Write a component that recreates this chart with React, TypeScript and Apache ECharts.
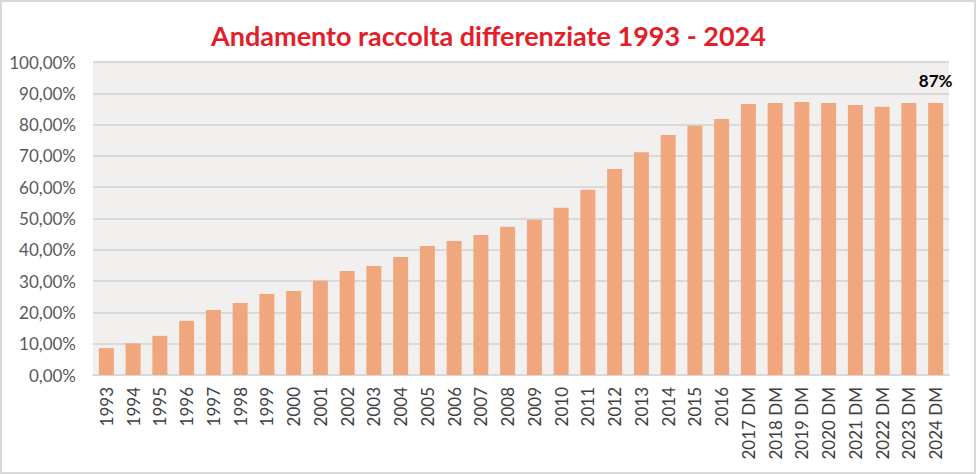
import React, { useEffect, useRef } from "react";
import * as echarts from "echarts";

const categories: string[] = [
  "1993", "1994", "1995", "1996", "1997", "1998", "1999", "2000",
  "2001", "2002", "2003", "2004", "2005", "2006", "2007", "2008",
  "2009", "2010", "2011", "2012", "2013", "2014", "2015", "2016",
  "2017 DM", "2018 DM", "2019 DM", "2020 DM", "2021 DM", "2022 DM", "2023 DM", "2024 DM",
];

const values: number[] = [
  8.6, 10.1, 12.5, 17.3, 20.8, 23.0, 25.9, 26.8,
  30.1, 33.2, 34.8, 37.7, 41.2, 42.8, 44.7, 47.4,
  49.6, 53.4, 59.2, 65.8, 71.2, 76.7, 79.6, 81.8,
  86.6, 86.9, 87.2, 86.9, 86.3, 85.7, 86.9, 86.9,
];

const titleText = "Andamento raccolta differenziate 1993 - 2024";

export default function App() {
  const ref = useRef<HTMLDivElement>(null);
  useEffect(() => {
    if (!ref.current) return;
    const chart = echarts.init(ref.current, null, { renderer: "svg" });
    const last = values.length - 1;
    chart.setOption({
      animation: false,
      backgroundColor: "#ffffff",
      textStyle: { fontFamily: "Lato" },
      title: {
        text: titleText,
        left: "center",
        top: 17,
        textStyle: { fontFamily: "Lato", fontWeight: "bold", fontSize: 27, color: "#E3202A" },
      },
      graphic: [
        {
          type: "rect",
          shape: { x: 1, y: 1, width: 974, height: 472 },
          style: { fill: "none", stroke: "#D9D9D9", lineWidth: 2 },
          silent: true,
        },
      ],
      grid: {
        left: 93, right: 28, top: 62, bottom: 100,
        show: true, backgroundColor: "#F2F0EF", borderWidth: 0,
      },
      xAxis: {
        type: "category",
        data: categories,
        axisTick: { show: false },
        axisLine: { lineStyle: { color: "#D9D9D9", width: 2 } },
        axisLabel: { rotate: 90, interval: 0, fontSize: 17, color: "#404040", margin: 12, fontFamily: "Lato" },
      },
      yAxis: {
        type: "value",
        min: 0, max: 100, interval: 10,
        axisLine: { show: false },
        axisTick: { show: false },
        splitLine: { lineStyle: { color: "#D9D9D9", width: 2 } },
        axisLabel: {
          fontSize: 17, color: "#595959", margin: 17, fontFamily: "Lato",
          formatter: (v: number) => v.toFixed(2).replace(".", ",") + "%",
        },
      },
      series: [
        {
          type: "bar",
          barWidth: 15,
          itemStyle: { color: "#F1A77D" },
          data: values.map((v, i) =>
            i === last
              ? {
                  value: v,
                  label: {
                    show: true, position: "top", distance: 14,
                    fontSize: 17, fontWeight: "bold", color: "#000000", fontFamily: "Lato",
                    formatter: (p: any) => Math.round(p.value) + "%",
                  },
                }
              : v
          ),
        },
      ],
    });
    return () => chart.dispose();
  }, []);
  return (
    <div
      ref={ref}
      style={{ position: "absolute", left: 0, top: 0, width: 977, height: 475 }}
    />
  );
}
